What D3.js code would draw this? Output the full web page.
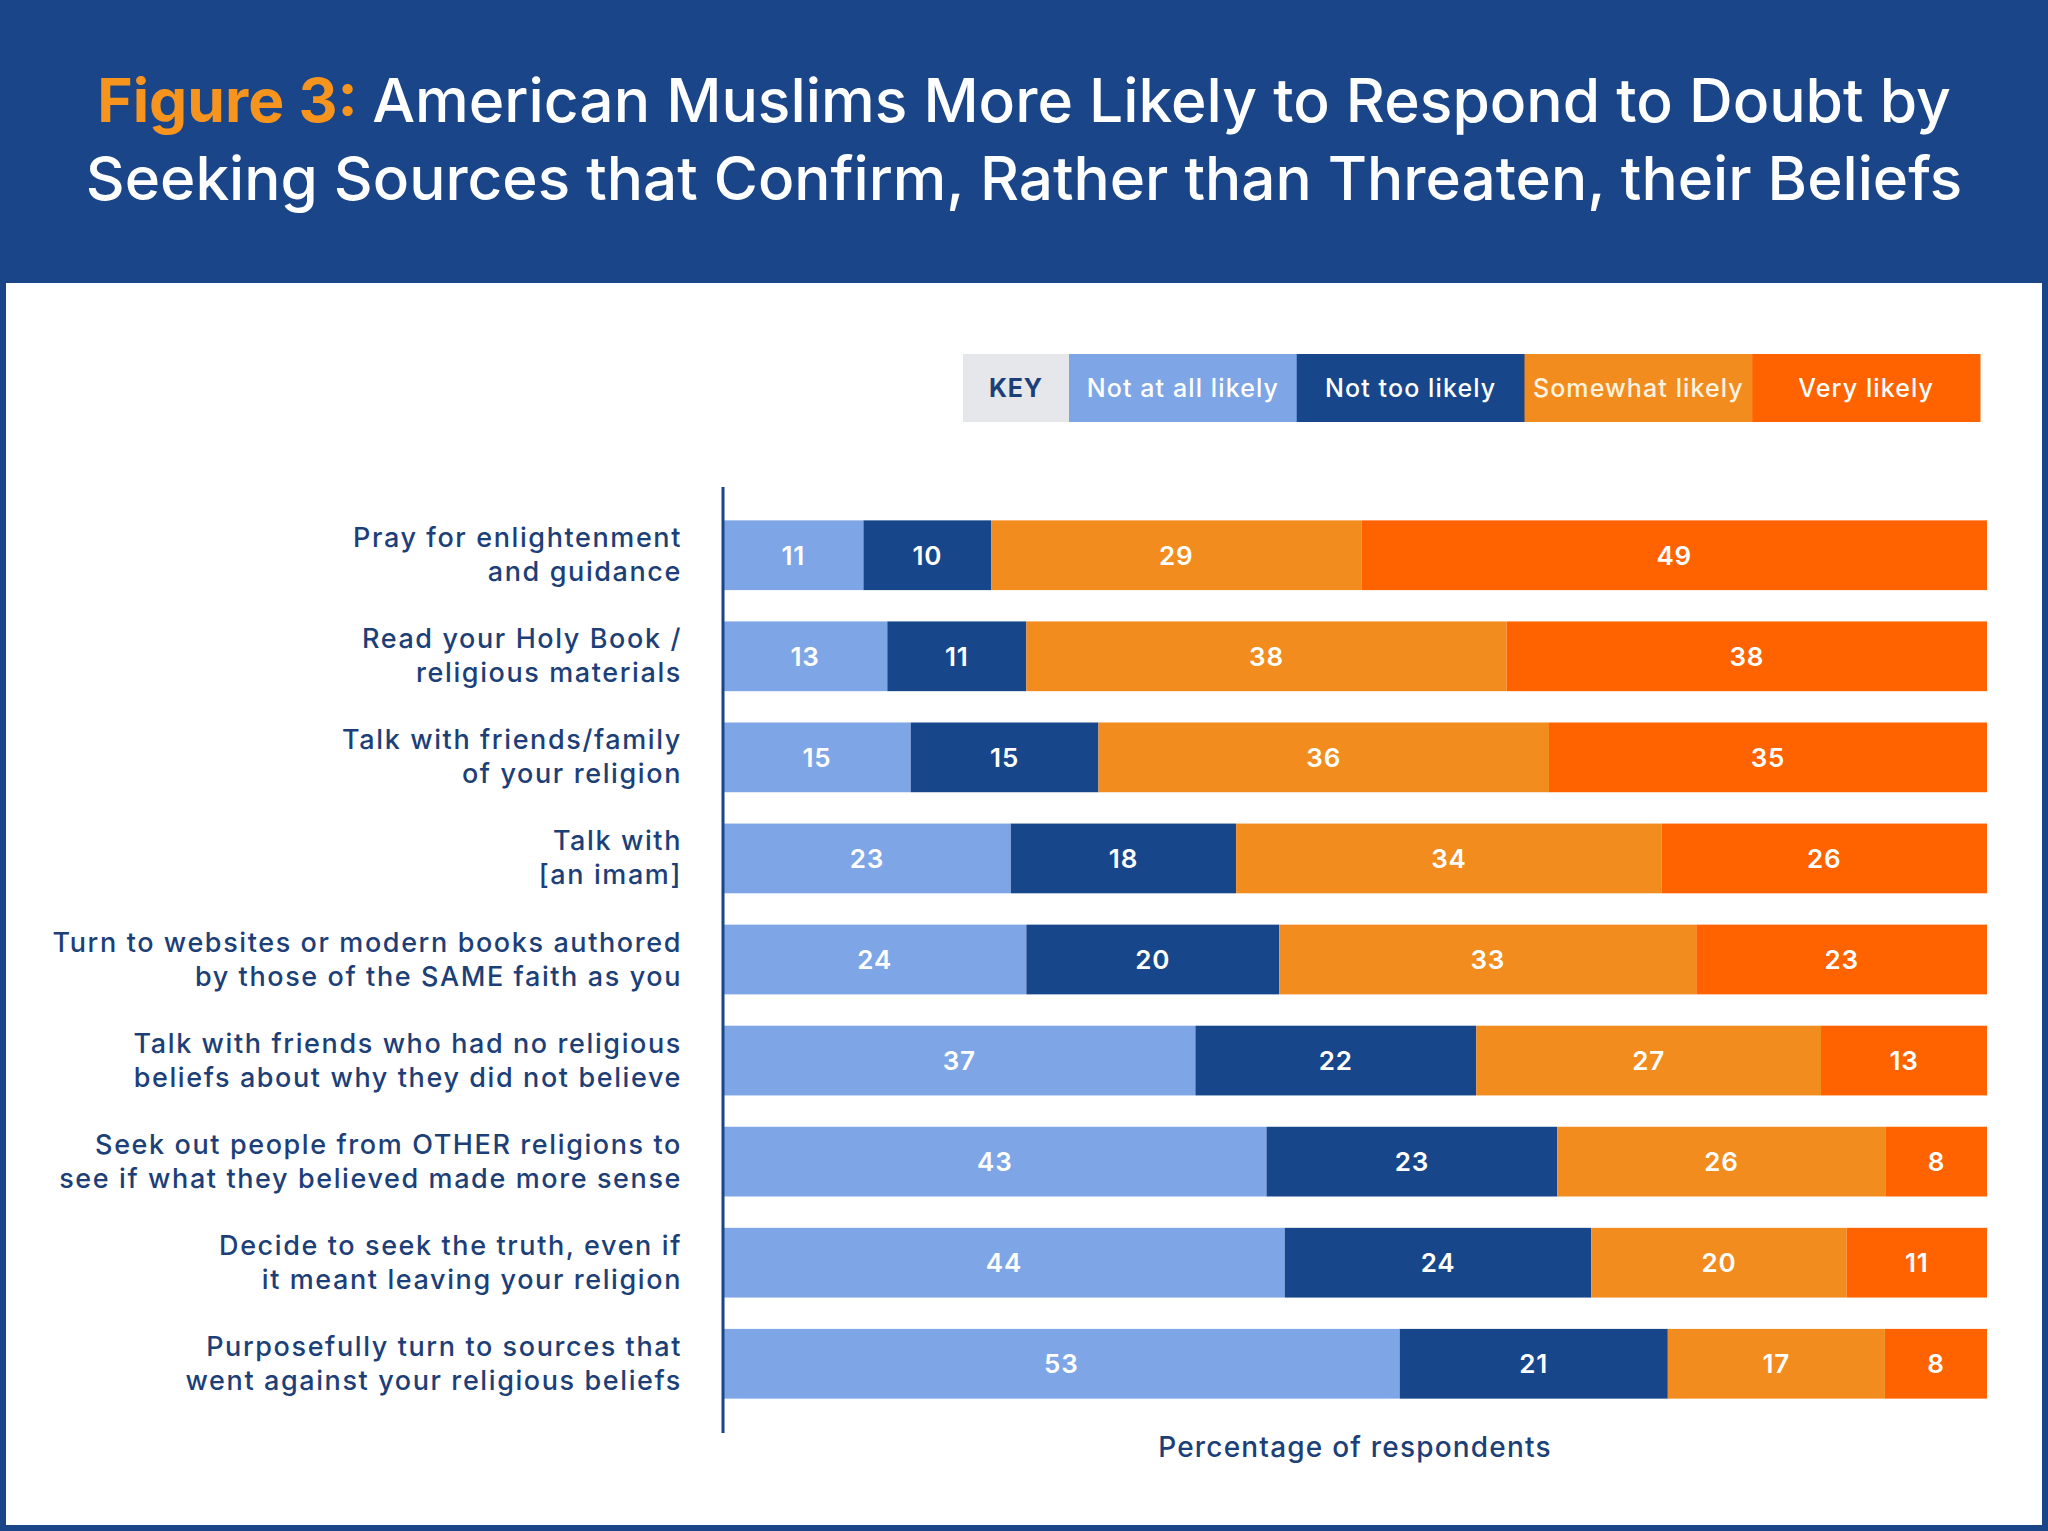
<!DOCTYPE html>
<html>
<head>
<meta charset="utf-8">
<script src="https://cdn.jsdelivr.net/npm/d3@7"></script>
<style>
  body { margin: 0; background: #fff; }
  svg { display: block; font-family: "Inter", "Open Sans", sans-serif; }
</style>
</head>
<body>
<div id="chart"></div>
<script>
const categories = [
    "Pray for enlightenment\nand guidance",
    "Read your Holy Book /\nreligious materials",
    "Talk with friends/family\nof your religion",
    "Talk with\n[an imam]",
    "Turn to websites or modern books authored\nby those of the SAME faith as you",
    "Talk with friends who had no religious\nbeliefs about why they did not believe",
    "Seek out people from OTHER religions to\nsee if what they believed made more sense",
    "Decide to seek the truth, even if\nit meant leaving your religion",
    "Purposefully turn to sources that\nwent against your religious beliefs"
];
const seriesNames = ["Not at all likely", "Not too likely", "Somewhat likely", "Very likely"];
const notAtAll = [11, 13, 15, 23, 24, 37, 43, 44, 53];
const notToo = [10, 11, 15, 18, 20, 22, 23, 24, 21];
const somewhat = [29, 38, 36, 34, 33, 27, 26, 20, 17];
const very = [49, 38, 35, 26, 23, 13, 8, 11, 8];
const titleLines = ["American Muslims More Likely to Respond to Doubt by",
    "Seeking Sources that Confirm, Rather than Threaten, their Beliefs"];
const axisTitle = "Percentage of respondents";

(function () {
    const width = 2048, height = 1531;
    const navy = "#1a4689", textNavy = "#1d3f78";
    const color = d3.scaleOrdinal()
        .domain(seriesNames)
        .range(["#7ea5e5", "#17468b", "#f28c1e", "#ff6300"]);

    const rows = categories.map((c, i) => ({
        category: c,
        [seriesNames[0]]: notAtAll[i],
        [seriesNames[1]]: notToo[i],
        [seriesNames[2]]: somewhat[i],
        [seriesNames[3]]: very[i]
    }));

    const svg = d3.select("#chart")
        .append("svg")
        .attr("width", width)
        .attr("height", height);

    // frame + header
    svg.append("rect")
        .attr("width", width).attr("height", height)
        .attr("fill", navy);
    svg.append("rect")
        .attr("x", 6).attr("y", 283)
        .attr("width", width - 12).attr("height", height - 283 - 6)
        .attr("fill", "#fff");

    // title, fitted to the reference line widths
    const titleWidths = [1854, 1877];
    const titleY = [122, 200];
    titleLines.forEach((line, i) => {
        const t = svg.append("text")
            .attr("x", 1024)
            .attr("y", titleY[i])
            .attr("text-anchor", "middle")
            .attr("font-size", 60)
            .attr("font-weight", 500)
            .attr("fill", "#fff");
        if (i === 0) {
            t.append("tspan").attr("fill", "#f7941d").attr("font-weight", 700).text("Figure 3: ");
        }
        t.append("tspan").text(line);
        const w = t.node().getComputedTextLength();
        t.attr("font-size", 60 * titleWidths[i] / w);
    });

    const x = d3.scaleLinear()
        .domain([0, 1])
        .range([723, 1987]);
    const y = d3.scaleBand()
        .domain(categories)
        .range([486, 1433])
        .paddingInner(0.31)
        .paddingOuter(0.34);

    const stacked = d3.stack()
        .keys(seriesNames)
        .offset(d3.stackOffsetExpand)(rows);

    const layer = svg.append("g")
        .selectAll("g")
        .data(stacked)
        .join("g")
        .attr("fill", d => color(d.key));
    layer.selectAll("rect")
        .data(d => d)
        .join("rect")
        .attr("x", d => x(d[0]))
        .attr("y", d => y(d.data.category))
        .attr("width", d => x(d[1]) - x(d[0]))
        .attr("height", y.bandwidth());

    // value labels
    svg.append("g")
        .attr("font-size", 26)
        .attr("font-weight", 600)
        .attr("letter-spacing", 0.8)
        .attr("fill", "#fff")
        .attr("text-anchor", "middle")
        .selectAll("g")
        .data(stacked)
        .join("g")
        .each(function (s) {
            d3.select(this)
                .selectAll("text")
                .data(s)
                .join("text")
                .attr("x", d => (x(d[0]) + x(d[1])) / 2)
                .attr("y", d => y(d.data.category) + y.bandwidth() / 2)
                .attr("dy", "0.36em")
                .text(d => d.data[s.key]);
        });

    // y axis line and category labels
    svg.append("line")
        .attr("x1", 723).attr("x2", 723)
        .attr("y1", 487).attr("y2", 1433)
        .attr("stroke", navy)
        .attr("stroke-width", 3);
    svg.append("g")
        .attr("font-size", 27)
        .attr("font-weight", 500)
        .attr("letter-spacing", 1.6)
        .attr("fill", textNavy)
        .attr("text-anchor", "end")
        .selectAll("text")
        .data(categories)
        .join("text")
        .attr("y", d => y(d) + y.bandwidth() / 2)
        .each(function (d) {
            const lines = d.split("\n");
            d3.select(this)
                .selectAll("tspan")
                .data(lines)
                .join("tspan")
                .attr("x", 682)
                .attr("dy", (l, i) => i === 0 ? -8 : 34)
                .text(l => l);
        });

    svg.append("text")
        .attr("x", 1355)
        .attr("y", 1457)
        .attr("text-anchor", "middle")
        .attr("font-size", 28)
        .attr("font-weight", 500)
        .attr("letter-spacing", 1.2)
        .attr("fill", textNavy)
        .text(axisTitle);

    // legend
    const legend = svg.append("g");
    legend.append("rect")
        .attr("x", 963).attr("y", 354)
        .attr("width", 106).attr("height", 68)
        .attr("fill", "#e6e7ea");
    legend.append("text")
        .attr("x", 1016).attr("y", 388)
        .attr("dy", "0.36em")
        .attr("text-anchor", "middle")
        .attr("font-size", 25)
        .attr("font-weight", 700)
        .attr("letter-spacing", 0.8)
        .attr("fill", textNavy)
        .text("KEY");
    const lx = d3.scaleBand()
        .domain(seriesNames)
        .range([1069, 1980]);
    legend.selectAll(".item")
        .data(seriesNames)
        .join("rect")
        .attr("x", d => lx(d))
        .attr("y", 354)
        .attr("width", lx.bandwidth() + 0.5)
        .attr("height", 68)
        .attr("fill", d => color(d));
    legend.selectAll(".lab")
        .data(seriesNames)
        .join("text")
        .attr("x", d => lx(d) + lx.bandwidth() / 2)
        .attr("y", 388)
        .attr("dy", "0.36em")
        .attr("text-anchor", "middle")
        .attr("font-size", 25)
        .attr("font-weight", 500)
        .attr("letter-spacing", 1.1)
        .attr("fill", (d, i) => i === 2 ? "#fff4e0" : "#fff")
        .text(d => d);
})();
</script>
</body>
</html>
